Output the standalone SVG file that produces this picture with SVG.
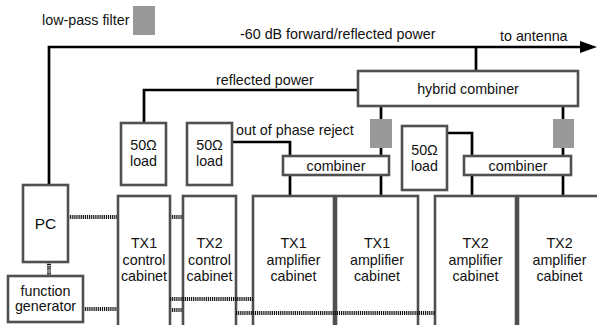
<svg xmlns="http://www.w3.org/2000/svg" width="597" height="325" viewBox="0 0 597 325">
<defs>
<style>
text{font-family:"Liberation Sans",Arial,sans-serif;font-size:14.3px;fill:#111}
.c{text-anchor:middle}
.box{fill:#fff;stroke:#505050;stroke-width:2.6}
.w{fill:none;stroke:#000;stroke-width:2.7}
.d{fill:none;stroke:#111;stroke-width:4;stroke-dasharray:1.2 0.9}
.f{fill:#999}
</style>
<marker id="ah" markerWidth="17" markerHeight="12" refX="0" refY="6" orient="auto" markerUnits="userSpaceOnUse">
<path d="M0,0 L17,6 L0,12 Z" fill="#000"/>
</marker>
</defs>
<rect width="597" height="325" fill="#fff"/>

<g id="legend">
<text x="42" y="25">low-pass filter</text>
<rect class="f" x="133" y="6" width="22" height="29"/>
</g>

<g id="connectors">
<path class="w" d="M49,185 V47 H580" marker-end="url(#ah)"/>
<path class="w" d="M476,47 V71"/>
<path class="w" d="M144,123 V90 H358"/>
<path class="w" d="M232,142 H290 V156"/>
<path class="w" d="M447,133 H472 V156"/>
<path class="w" d="M381,106 V156"/>
<path class="w" d="M563,106 V156"/>
<path class="w" d="M290,175 V196"/>
<path class="w" d="M381,175 V196"/>
<path class="w" d="M472,175 V196"/>
<path class="w" d="M563,175 V196"/>
<path class="d" d="M68,217 H118"/>
<path class="d" d="M170,217 H183"/>
<path class="d" d="M49,262 V276"/>
<path class="d" d="M83,309 H118"/>
<path class="d" d="M170,310 H183"/>
</g>

<g id="labels">
<text x="240" y="39">-60 dB forward/reflected power</text>
<text x="500" y="41">to antenna</text>
<text x="216" y="85">reflected power</text>
<text x="236" y="135">out of phase reject</text>
</g>

<g id="filter1"><rect class="f" x="370" y="119" width="22" height="29"/></g>
<g id="filter2"><rect class="f" x="553" y="119" width="21" height="29"/></g>

<g id="hybrid-combiner">
<rect class="box" x="358" y="71" width="220" height="35"/>
<text class="c" x="468" y="93.5">hybrid combiner</text>
</g>

<g id="load1">
<rect class="box" x="121" y="123" width="45" height="62"/>
<text class="c" x="143.5" y="150">50Ω</text>
<text class="c" x="143.5" y="166">load</text>
</g>
<g id="load2">
<rect class="box" x="187" y="123" width="45" height="62"/>
<text class="c" x="209.5" y="150">50Ω</text>
<text class="c" x="209.5" y="166">load</text>
</g>
<g id="load3">
<rect class="box" x="402" y="126" width="45" height="64"/>
<text class="c" x="424.5" y="155">50Ω</text>
<text class="c" x="424.5" y="171">load</text>
</g>

<g id="combiner1">
<rect class="box" x="283" y="156" width="106" height="19"/>
<text class="c" x="336" y="171">combiner</text>
</g>
<g id="combiner2">
<rect class="box" x="464" y="156" width="107" height="19"/>
<text class="c" x="518" y="171">combiner</text>
</g>

<g id="pc">
<rect class="box" x="23" y="185" width="45" height="77"/>
<text class="c" x="45.5" y="229" style="font-size:15.5px">PC</text>
</g>
<g id="function-generator">
<rect class="box" x="8" y="276" width="75" height="46"/>
<text class="c" x="45.5" y="296">function</text>
<text class="c" x="45.5" y="311">generator</text>
</g>

<g id="tx1-control">
<rect class="box" x="118" y="196" width="52" height="135"/>
<text class="c" x="144" y="248">TX1</text>
<text class="c" x="144" y="265">control</text>
<text class="c" x="144" y="281">cabinet</text>
</g>
<g id="tx2-control">
<rect class="box" x="183" y="196" width="53" height="135"/>
<text class="c" x="209.5" y="248">TX2</text>
<text class="c" x="209.5" y="265">control</text>
<text class="c" x="209.5" y="281">cabinet</text>
</g>
<g id="tx1-amp-a">
<rect class="box" x="253" y="196" width="81" height="135"/>
<text class="c" x="293.5" y="248">TX1</text>
<text class="c" x="293.5" y="265">amplifier</text>
<text class="c" x="293.5" y="281">cabinet</text>
</g>
<g id="tx1-amp-b">
<rect class="box" x="336" y="196" width="82" height="135"/>
<text class="c" x="377" y="248">TX1</text>
<text class="c" x="377" y="265">amplifier</text>
<text class="c" x="377" y="281">cabinet</text>
</g>
<g id="tx2-amp-a">
<rect class="box" x="435" y="196" width="81" height="135"/>
<text class="c" x="475.5" y="248">TX2</text>
<text class="c" x="475.5" y="265">amplifier</text>
<text class="c" x="475.5" y="281">cabinet</text>
</g>
<g id="tx2-amp-b">
<rect class="box" x="518" y="196" width="83" height="135"/>
<text class="c" x="559.5" y="248">TX2</text>
<text class="c" x="559.5" y="265">amplifier</text>
<text class="c" x="559.5" y="281">cabinet</text>
</g>

<g id="connectors-over">
<path class="d" d="M170,299 H253"/>
<path class="d" d="M236,313 H435"/>
</g>
</svg>
